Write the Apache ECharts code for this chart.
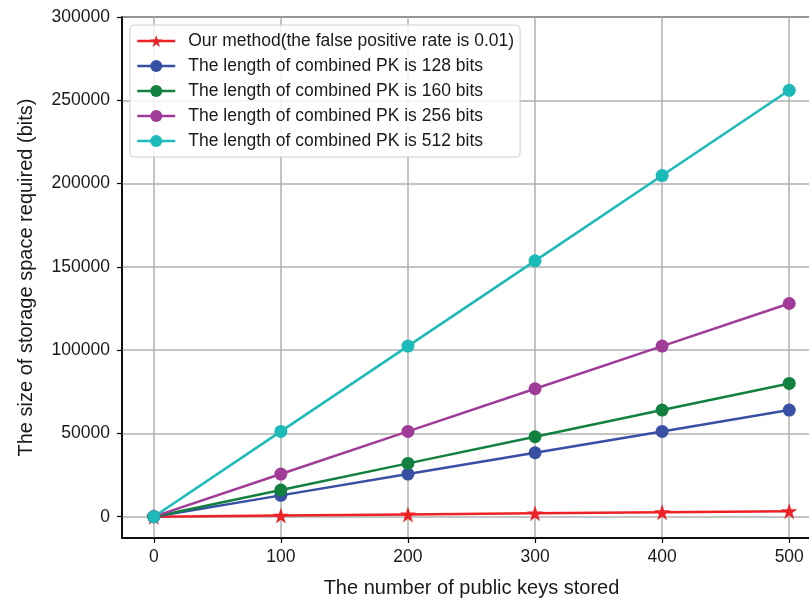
<!DOCTYPE html>
<html>
<head>
<meta charset="utf-8">
<script src="https://cdn.jsdelivr.net/npm/echarts@6/dist/echarts.min.js"></script>
<style>
  html, body { margin: 0; padding: 0; background: #fff; }
  #chart { width: 809px; height: 599px; }
</style>
</head>
<body>
<div id="chart"></div>
<script>
// number of public keys stored
var keyCounts = [0, 100, 200, 300, 400, 500];
// storage (bits)
var ourMethod = [0, 660, 1330, 1990, 2660, 3320];
var pk128 = [0, 12800, 25600, 38400, 51200, 64000];
var pk160 = [0, 16000, 32000, 48000, 64000, 80000];
var pk256 = [0, 25600, 51200, 76800, 102400, 128000];
var pk512 = [0, 51200, 102400, 153600, 204800, 256000];

var xTicks = [0, 100, 200, 300, 400, 500];
var yTicks = [0, 50000, 100000, 150000, 200000, 250000, 300000];

var font = "Liberation Sans, Arial, sans-serif";
var starPath = "path://M50,0 L61.8,35.1 L98.9,35.1 L68.9,56.8 L80.4,91.9 L50,70.2 L19.6,91.9 L31.1,56.8 L1.1,35.1 L38.2,35.1 Z";

var chart = echarts.init(document.getElementById("chart"));

function pairs(vals) {
  return keyCounts.map(function(k, i) {
    return [k, vals[i]];
  });
}

function makeSeries(name, vals, color, symbol, size) {
  return {
    name: name,
    type: "line",
    data: pairs(vals),
    symbol: symbol,
    symbolSize: size,
    showSymbol: true,
    lineStyle: { color: color, width: 2.5 },
    itemStyle: { color: color },
    emphasis: { disabled: true },
    animation: false
  };
}

var option = {
  animation: false,
  grid: {
    left: 122,
    right: -12,
    top: 17,
    bottom: 61,
    show: true,
    borderColor: "#000",
    borderWidth: 1.5,
    containLabel: false,
    outerBoundsMode: "none"
  },
  legend: {
    left: 130,
    top: 25,
    orient: "vertical",
    itemWidth: 38,
    itemHeight: 15,
    itemGap: 7,
    padding: [7, 6, 7, 6],
    backgroundColor: "rgba(255,255,255,0.85)",
    borderColor: "#d0d0d0",
    borderWidth: 1,
    borderRadius: 4,
    lineStyle: { width: 2.5 },
    textStyle: { fontFamily: font, fontSize: 17.5, color: "#1a1a1a", lineHeight: 18, padding: [0, 0, 0, 8] },
    data: [
      "Our method(the false positive rate is 0.01)",
      "The length of combined PK is 128 bits",
      "The length of combined PK is 160 bits",
      "The length of combined PK is 256 bits",
      "The length of combined PK is 512 bits"
    ]
  },
  xAxis: {
    type: "value",
    min: -25,
    max: 525,
    name: "The number of public keys stored",
    nameLocation: "middle",
    nameGap: 40,
    nameTextStyle: { fontFamily: font, fontSize: 20, color: "#1a1a1a" },
    axisLine: { show: true, onZero: false, lineStyle: { color: "#000", width: 1.5 } },
    axisTick: { show: true, length: 5, customValues: xTicks, lineStyle: { color: "#000", width: 1.2 } },
    axisLabel: { customValues: xTicks, fontFamily: font, fontSize: 17.5, color: "#1a1a1a", margin: 10 },
    splitLine: { show: true, lineStyle: { color: "#b0b0b0", width: 1.5 } }
  },
  yAxis: {
    type: "value",
    min: -12800,
    max: 300000,
    name: "The size of storage space required (bits)",
    nameLocation: "middle",
    nameGap: 86,
    nameTextStyle: { fontFamily: font, fontSize: 20, color: "#1a1a1a" },
    axisLine: { show: true, onZero: false, lineStyle: { color: "#000", width: 1.5 } },
    axisTick: { show: true, length: 5, customValues: yTicks, lineStyle: { color: "#000", width: 1.2 } },
    axisLabel: {
      customValues: yTicks,
      fontFamily: font,
      fontSize: 17.5,
      color: "#1a1a1a",
      margin: 12,
      formatter: function(v) { return String(v); }
    },
    splitLine: { show: true, lineStyle: { color: "#b0b0b0", width: 1.5 } }
  },
  series: [
    makeSeries("Our method(the false positive rate is 0.01)", ourMethod, "#ec2227", starPath, 16),
    makeSeries("The length of combined PK is 128 bits", pk128, "#3750a3", "circle", 13),
    makeSeries("The length of combined PK is 160 bits", pk160, "#12803e", "circle", 13),
    makeSeries("The length of combined PK is 256 bits", pk256, "#a03b98", "circle", 13),
    makeSeries("The length of combined PK is 512 bits", pk512, "#1cbab9", "circle", 13)
  ]
};

chart.setOption(option);
</script>
</body>
</html>
